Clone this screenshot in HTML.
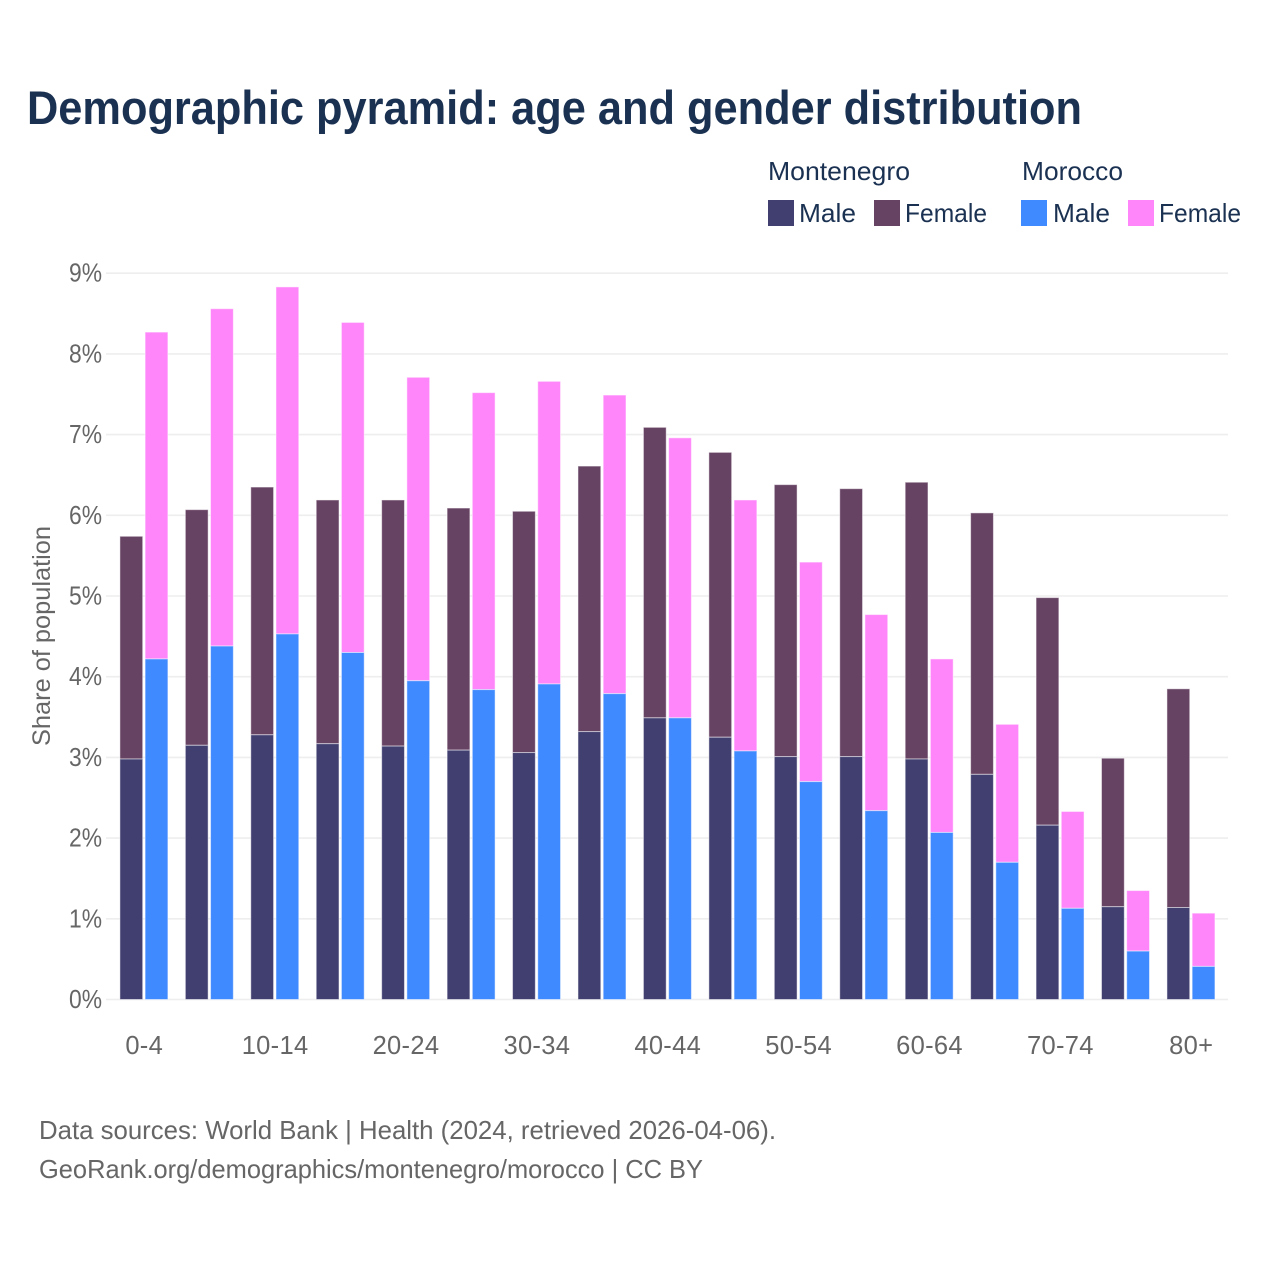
<!DOCTYPE html>
<html lang="en">
<head>
<meta charset="utf-8">
<title>Demographic pyramid</title>
<style>
html,body{margin:0;padding:0;background:#fff;}
svg{display:block;font-family:"Liberation Sans",sans-serif;}
</style>
</head>
<body>
<svg id="chart" xmlns="http://www.w3.org/2000/svg" width="1280" height="1280" viewBox="0 0 1280 1280">
  <rect x="0" y="0" width="1280" height="1280" fill="#ffffff"/>
  <text x="27" y="124" font-size="47" font-weight="700" fill="#1a3152" textLength="1055" lengthAdjust="spacingAndGlyphs">Demographic pyramid: age and gender distribution</text>

  <g font-size="26" fill="#1a3152">
    <text x="768" y="180" textLength="142" lengthAdjust="spacingAndGlyphs">Montenegro</text>
    <text x="1022" y="180" textLength="101" lengthAdjust="spacingAndGlyphs">Morocco</text>
    <rect x="768" y="200" width="26" height="26" fill="#413f70"/>
    <text x="799" y="222" textLength="57" lengthAdjust="spacingAndGlyphs">Male</text>
    <rect x="874" y="200" width="26" height="26" fill="#664263"/>
    <text x="905" y="222" textLength="82" lengthAdjust="spacingAndGlyphs">Female</text>
    <rect x="1021" y="200" width="26" height="26" fill="#408aff"/>
    <text x="1053" y="222" textLength="57" lengthAdjust="spacingAndGlyphs">Male</text>
    <rect x="1128" y="200" width="26" height="26" fill="#ff85fa"/>
    <text x="1159" y="222" textLength="82" lengthAdjust="spacingAndGlyphs">Female</text>
  </g>

  <g id="grid"></g>
  <g id="bars"></g>
  <g id="yticks"></g>
  <g id="xticks"></g>

  <text transform="translate(50,636) rotate(-90)" text-anchor="middle" font-size="25" fill="#666666" textLength="220" lengthAdjust="spacingAndGlyphs">Share of population</text>

  <text x="39" y="1139" font-size="26" fill="#666666" textLength="737" lengthAdjust="spacingAndGlyphs">Data sources: World Bank | Health (2024, retrieved 2026-04-06).</text>
  <text x="39" y="1178" font-size="26" fill="#666666" textLength="664" lengthAdjust="spacingAndGlyphs">GeoRank.org/demographics/montenegro/morocco | CC BY</text>
</svg>
<script>
var categories = ["0-4","5-9","10-14","15-19","20-24","25-29","30-34","35-39","40-44","45-49","50-54","55-59","60-64","65-69","70-74","75-79","80+"];
var montenegroMale = [2.98,3.15,3.28,3.17,3.14,3.09,3.06,3.32,3.49,3.25,3.01,3.01,2.98,2.79,2.16,1.15,1.14];
var montenegroFemale = [2.76,2.92,3.07,3.02,3.05,3.00,2.99,3.29,3.60,3.53,3.37,3.32,3.43,3.24,2.82,1.84,2.71];
var moroccoMale = [4.22,4.38,4.53,4.30,3.95,3.84,3.91,3.79,3.49,3.08,2.70,2.34,2.07,1.70,1.13,0.60,0.41];
var moroccoFemale = [4.05,4.18,4.30,4.09,3.76,3.68,3.75,3.70,3.47,3.11,2.72,2.43,2.15,1.71,1.20,0.75,0.66];
var yTickValues = [0,1,2,3,4,5,6,7,8,9];
var yTickLabels = ["0%","1%","2%","3%","4%","5%","6%","7%","8%","9%"];
var xTickLabels = ["0-4","","10-14","","20-24","","30-34","","40-44","","50-54","","60-64","","70-74","","80+"];

var NS = "http://www.w3.org/2000/svg";
function yScale(v) { return 999.5 - v * 80.7; }
function xScale(i) { return 144.2 + i * 65.44; }
var barWidth = 22.8;

function addBar(parent, x, v0, v1, fill, name) {
  var r = document.createElementNS(NS, "rect");
  r.setAttribute("x", x);
  r.setAttribute("y", yScale(v1));
  r.setAttribute("width", barWidth);
  r.setAttribute("height", yScale(v0) - yScale(v1));
  r.setAttribute("fill", fill);
  r.setAttribute("stroke", "#ffffff");
  r.setAttribute("stroke-opacity", "0.5");
  r.setAttribute("stroke-width", "1");
  
  
  parent.appendChild(r);
}

var grid = document.getElementById("grid");
var yticks = document.getElementById("yticks");
yTickValues.forEach(function (v, i) {
  var l = document.createElementNS(NS, "line");
  l.setAttribute("x1", 106);
  l.setAttribute("x2", 1228);
  l.setAttribute("y1", yScale(v));
  l.setAttribute("y2", yScale(v));
  l.setAttribute("stroke", "#eeeeee");
  l.setAttribute("stroke-width", "1.6");
  
  
  grid.appendChild(l);

  var t = document.createElementNS(NS, "text");
  t.setAttribute("x", 69);
  t.setAttribute("y", yScale(v) + 8.5);
  t.setAttribute("font-size", "25.5");
  t.setAttribute("fill", "#666666");
  t.setAttribute("textLength", "33");
  t.setAttribute("lengthAdjust", "spacingAndGlyphs");
  
  
  t.textContent = yTickLabels[i];
  yticks.appendChild(t);
});

var bars = document.getElementById("bars");
var xticks = document.getElementById("xticks");
categories.forEach(function (c, i) {
  var cx = xScale(i);
  var m1 = montenegroMale[i], m2 = montenegroFemale[i];
  var k1 = moroccoMale[i], k2 = moroccoFemale[i];
  addBar(bars, cx - 24.3, m1, m1 + m2, "#664263", "bar-montenegro-female-" + c);
  addBar(bars, cx - 24.3, 0, m1, "#413f70", "bar-montenegro-male-" + c);
  addBar(bars, cx + 0.9, k1, k1 + k2, "#ff85fa", "bar-morocco-female-" + c);
  addBar(bars, cx + 0.9, 0, k1, "#408aff", "bar-morocco-male-" + c);

  if (xTickLabels[i]) {
    var t = document.createElementNS(NS, "text");
    t.setAttribute("x", cx);
    t.setAttribute("y", 1054);
    t.setAttribute("text-anchor", "middle");
    t.setAttribute("font-size", "25.5");
    t.setAttribute("letter-spacing", "0.3");
    t.setAttribute("fill", "#666666");
    
    
    t.textContent = xTickLabels[i];
    xticks.appendChild(t);
  }
});
</script>
</body>
</html>
